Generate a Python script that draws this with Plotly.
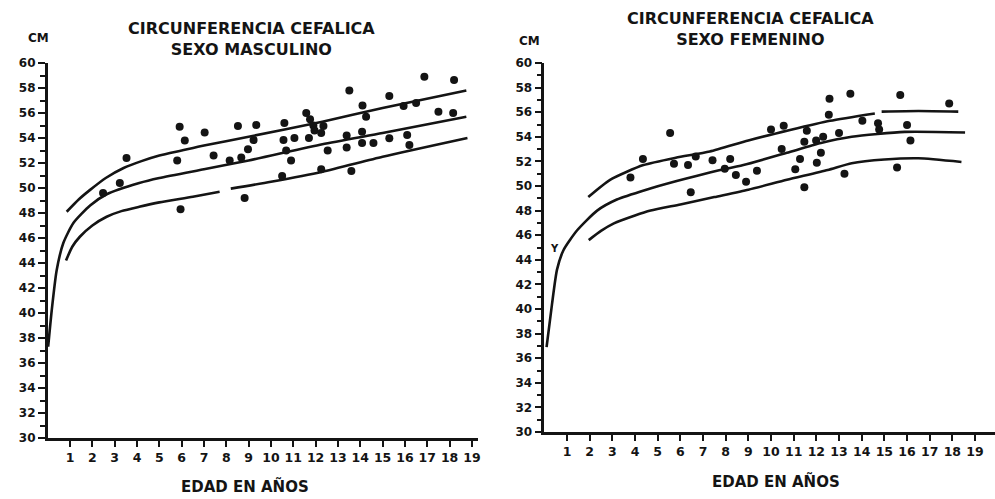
import plotly.graph_objects as go

# ---------------- data ----------------
years = list(range(1, 20))
y_ticks = list(range(30, 61, 2))
y_tick_text = [str(v) for v in y_ticks]

# Male panel curves (None = gap in the printed line)
male_upper_x = [0.85, 1.4, 1.9, 2.6, 3.4, 4.2, 5.0, 6.0, 7.0, 9.0, 12.3, 15.0, 18.75]
male_upper_y = [48.1, 49.1, 49.85, 50.8, 51.6, 52.15, 52.6, 53.0, 53.4, 54.1, 55.3, 56.4, 57.8]
male_mid_x = [0.02, 0.18, 0.4, 0.7, 1.15, 1.9, 2.64, 4.1, 5.0, 7.0, 9.0, 12.3, 15.0, 18.75]
male_mid_y = [37.3, 40.2, 43.4, 45.6, 47.2, 48.6, 49.5, 50.4, 50.8, 51.5, 52.2, 53.5, 54.4, 55.7]
male_low_x = [0.82, 1.1, 1.44, 2.0, 2.64, 3.3, 4.1, 5.0, 6.5, 7.7, None, 8.2, 10.0, 12.3, 15.0, 18.8]
male_low_y = [44.2, 45.3, 46.1, 47.0, 47.7, 48.15, 48.5, 48.85, 49.3, 49.7, None, 49.95, 50.5, 51.3, 52.5, 54.0]

male_pts_x = [2.48, 3.23, 3.53, 5.91, 6.14, 5.8, 5.95, 7.03, 7.43, 8.15, 8.67, 8.97, 8.52,
              9.34, 9.22, 8.82, 10.6, 10.56, 11.05, 10.68, 10.9, 10.5, 11.58, 11.75, 11.9,
              11.7, 11.95, 12.25, 12.35, 12.25, 12.54, 13.51, 14.1, 14.26, 13.39, 13.39,
              14.08, 14.08, 14.59, 13.6, 15.3, 15.3, 15.94, 16.5, 16.1, 16.2, 16.87, 18.2,
              17.5, 18.16]
male_pts_y = [49.6, 50.4, 52.4, 54.9, 53.8, 52.2, 48.3, 54.45, 52.6, 52.2, 52.45, 53.1, 54.96,
              55.04, 53.84, 49.2, 55.2, 53.84, 54.0, 53.0, 52.2, 50.96, 56.0, 55.5, 55.0,
              54.0, 54.6, 51.5, 54.96, 54.4, 53.0, 57.8, 56.6, 55.7, 54.2, 53.25,
              54.5, 53.6, 53.6, 51.36, 57.36, 53.98, 56.56, 56.8, 54.24, 53.44, 58.9, 58.64,
              56.1, 56.0]

# Female panel curves
fem_upper_x = [1.94, 2.9, 4.37, 5.8, 7.3, 9.0, 10.84, 12.6, 14.58, None, 14.88, 16.5, 18.26]
fem_upper_y = [49.1, 50.5, 51.7, 52.3, 52.8, 53.7, 54.55, 55.3, 55.9, None, 56.05, 56.1, 56.05]
fem_mid_x = [0.1, 0.34, 0.56, 0.85, 1.45, 2.33, 3.2, 4.5, 5.84, 7.3, 8.78, 10.7, 12.2, 13.56, 15.9, 18.56]
fem_mid_y = [36.9, 40.4, 43.2, 44.8, 46.4, 48.0, 48.9, 49.7, 50.4, 51.1, 51.7, 52.7, 53.5, 54.0, 54.4, 54.35]
fem_low_x = [1.96, 2.5, 3.07, 4.0, 4.69, 6.0, 7.5, 9.0, 10.7, 12.5, 13.56, 15.0, 16.5, 18.4]
fem_low_y = [45.6, 46.35, 46.96, 47.6, 48.0, 48.5, 49.1, 49.7, 50.5, 51.3, 51.85, 52.15, 52.25, 51.95]

fem_pts_x = [3.8, 4.35, 5.55, 5.72, 6.34, 6.68, 6.46, 7.42, 8.2, 7.96, 8.45, 8.9, 9.38, 10.0,
             10.56, 10.47, 12.58, 13.5, 15.7, 17.86, 12.55, 14.03, 14.72, 14.77, 16.0, 16.15,
             11.58, 11.47, 11.99, 12.3, 13.0, 12.2, 11.28, 12.02, 11.07, 11.47, 13.24, 15.56]
fem_pts_y = [50.7, 52.2, 54.3, 51.8, 51.7, 52.4, 49.5, 52.1, 52.2, 51.4, 50.9, 50.35, 51.24, 54.6,
             54.9, 53.0, 57.1, 57.5, 57.4, 56.7, 55.8, 55.3, 55.1, 54.6, 54.96, 53.7,
             54.5, 53.6, 53.7, 54.0, 54.3, 52.7, 52.2, 51.9, 51.36, 49.9, 51.0, 51.5]

# ---------------- styling ----------------
INK = "#141414"
W, H = 995, 499
FONT = "DejaVu Sans"


def px_x(p):
    return p / W


def px_y(p):
    return 1 - p / H


fig = go.Figure()

line_style = dict(color=INK, width=2.6, shape="spline", smoothing=0.6)
for xs, ys in [(male_upper_x, male_upper_y), (male_mid_x, male_mid_y), (male_low_x, male_low_y)]:
    fig.add_trace(go.Scatter(x=xs, y=ys, mode="lines", line=line_style,
                             xaxis="x", yaxis="y", showlegend=False, hoverinfo="skip"))
fig.add_trace(go.Scatter(x=male_pts_x, y=male_pts_y, mode="markers",
                         marker=dict(color=INK, size=8), xaxis="x", yaxis="y", showlegend=False))

for xs, ys in [(fem_upper_x, fem_upper_y), (fem_mid_x, fem_mid_y), (fem_low_x, fem_low_y)]:
    fig.add_trace(go.Scatter(x=xs, y=ys, mode="lines", line=line_style,
                             xaxis="x2", yaxis="y2", showlegend=False, hoverinfo="skip"))
fig.add_trace(go.Scatter(x=fem_pts_x, y=fem_pts_y, mode="markers",
                         marker=dict(color=INK, size=8), xaxis="x2", yaxis="y2", showlegend=False))

tickfont_y = dict(family=FONT, size=12, color=INK, weight="bold")
tickfont_x = dict(family=FONT, size=12.5, color=INK, weight="bold")

common_y = dict(range=[30, 60], tickmode="array", tickvals=y_ticks, ticktext=y_tick_text,
                showline=True, linewidth=2.6, linecolor=INK, ticks="outside", ticklen=7,
                tickwidth=2, tickcolor=INK, showgrid=False, zeroline=False, tickfont=tickfont_y,
                automargin=False,
                minor=dict(dtick=1, ticks="outside", ticklen=5, tickwidth=2, tickcolor=INK,
                           showgrid=False))
common_x = dict(tickmode="array", tickvals=years, ticktext=[str(v) for v in years],
                showline=True, linewidth=2.6, linecolor=INK, ticks="outside", ticklen=6,
                tickwidth=2, tickcolor=INK, showgrid=False, zeroline=False, tickfont=tickfont_x,
                automargin=False)

fig.update_layout(
    width=W, height=H, autosize=False,
    margin=dict(l=0, r=0, t=0, b=0, pad=0),
    paper_bgcolor="white", plot_bgcolor="white",
    showlegend=False,
    xaxis=dict(domain=[px_x(47.7), px_x(477.5)], range=[0, 19.25], anchor="y", **common_x),
    yaxis=dict(domain=[px_y(438), px_y(63)], anchor="x", **common_y),
    xaxis2=dict(domain=[px_x(544.3), 1.0], range=[0, 19.88], anchor="y2", **common_x),
    yaxis2=dict(domain=[px_y(432), px_y(63)], anchor="x2", **common_y),
)

title_font = dict(family=FONT, size=16, color=INK, weight="bold")
label_font = dict(family=FONT, size=15, color=INK, weight="bold")
small_font = dict(family=FONT, size=12, color=INK, weight="bold")


def note(text, x, y, font):
    fig.add_annotation(text=text, x=px_x(x), y=px_y(y), xref="paper", yref="paper",
                       xanchor="center", yanchor="middle", showarrow=False, font=font)


note("CIRCUNFERENCIA CEFALICA<br>SEXO MASCULINO", 252, 39, title_font)
note("CM", 38, 38, small_font)
note("EDAD EN AÑOS", 245, 486, label_font)

note("CIRCUNFERENCIA CEFALICA<br>SEXO FEMENINO", 750, 29, title_font)
note("CM", 529, 41, small_font)
note("EDAD EN AÑOS", 776, 481, label_font)

fig.add_annotation(text="Y", x=0.45, y=44.9, xref="x2", yref="y2", showarrow=False,
                   font=dict(family=FONT, size=10, color=INK, weight="bold"))

fig.write_html("out.html")
